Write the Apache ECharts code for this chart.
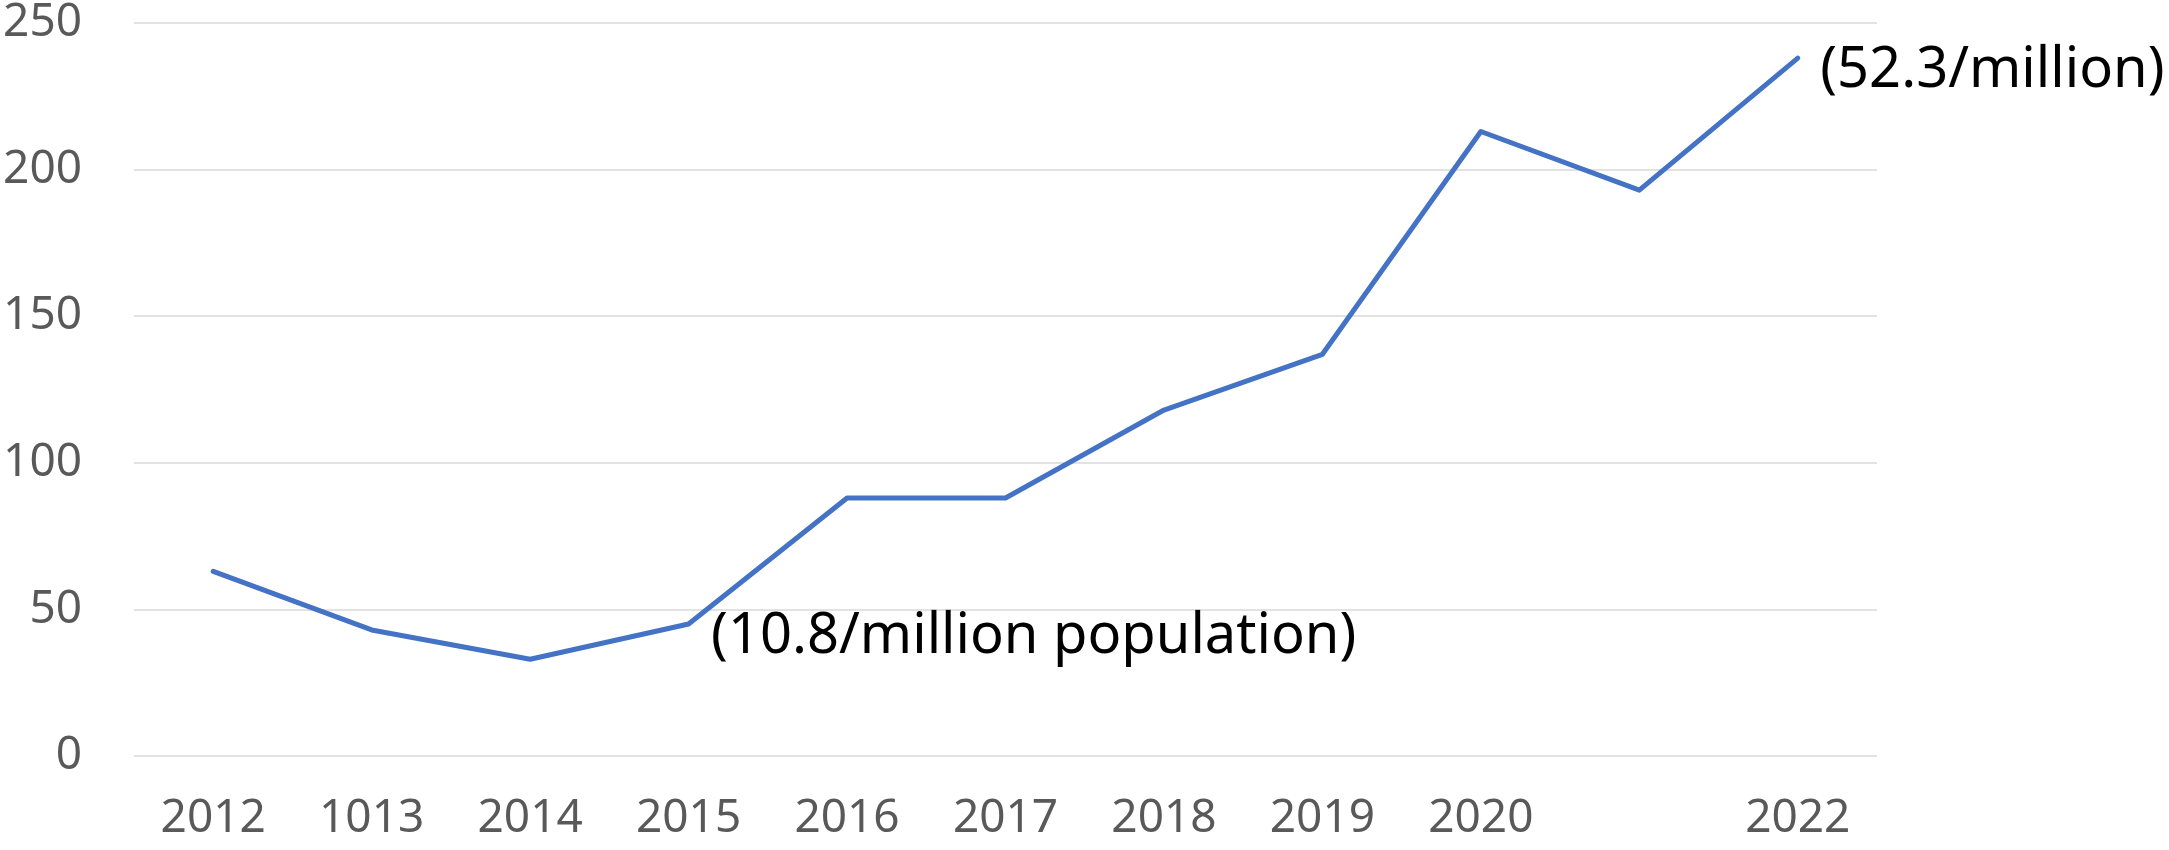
<!DOCTYPE html>
<html>
<head>
<meta charset="utf-8">
<title>Rate trend 2012–2022</title>
<script src="https://cdn.jsdelivr.net/npm/echarts@6/dist/echarts.min.js"></script>
<style>
  html, body { margin: 0; padding: 0; background: #ffffff; }
  #chart { width: 2169px; height: 850px; }
</style>
</head>
<body>
<div id="chart"></div>
<script>
// Year labels along the x axis (2021 is left unlabelled, 2013 printed as 1013)
const categories = ['2012', '1013', '2014', '2015', '2016', '2017', '2018', '2019', '2020', '', '2022'];
// Yearly counts
const values = [63, 43, 33, 45, 88, 88, 118, 137, 213, 193, 238];
// Y axis range and step
const yTicks = { min: 0, max: 250, interval: 50 };
// Call-out texts attached to individual years
const notes = [
  { index: 3, text: '(10.8/million population)' },
  { index: 10, text: '(52.3/million)' }
];

const noteStyle = {
  show: true,
  position: 'right',
  distance: 22,
  offset: [0, 13],
  color: '#000000',
  fontFamily: 'Noto Sans',
  fontSize: 56
};

const seriesData = values.map((v, i) => {
  const note = notes.find(n => n.index === i);
  if (!note) return v;
  return { value: v, label: Object.assign({}, noteStyle, { formatter: note.text }) };
});

const chart = echarts.init(document.getElementById('chart'), null, { renderer: 'canvas' });
chart.setOption({
  animation: false,
  backgroundColor: '#ffffff',
  grid: { left: 134, right: 292, top: 22, bottom: 94, containLabel: false },
  xAxis: {
    type: 'category',
    data: categories,
    boundaryGap: true,
    axisLine: { show: false },
    axisTick: { show: false },
    axisLabel: {
      color: '#595959',
      fontFamily: 'Noto Sans',
      fontSize: 46,
      margin: 40,
      interval: 0
    }
  },
  yAxis: {
    type: 'value',
    min: yTicks.min,
    max: yTicks.max,
    interval: yTicks.interval,
    axisLine: { show: false },
    axisTick: { show: false },
    splitLine: { lineStyle: { color: '#d9d9d9', width: 1.5 } },
    axisLabel: {
      color: '#595959',
      fontFamily: 'Noto Sans',
      fontSize: 46,
      margin: 52
    }
  },
  series: [{
    type: 'line',
    data: seriesData,
    showSymbol: true,
    symbol: 'circle',
    symbolSize: 1,
    lineStyle: { color: '#4472C4', width: 5, cap: 'round', join: 'round' },
    itemStyle: { color: 'rgba(0,0,0,0)', borderWidth: 0 },
    emphasis: { disabled: true },
    label: { show: false }
  }]
});
</script>
</body>
</html>
